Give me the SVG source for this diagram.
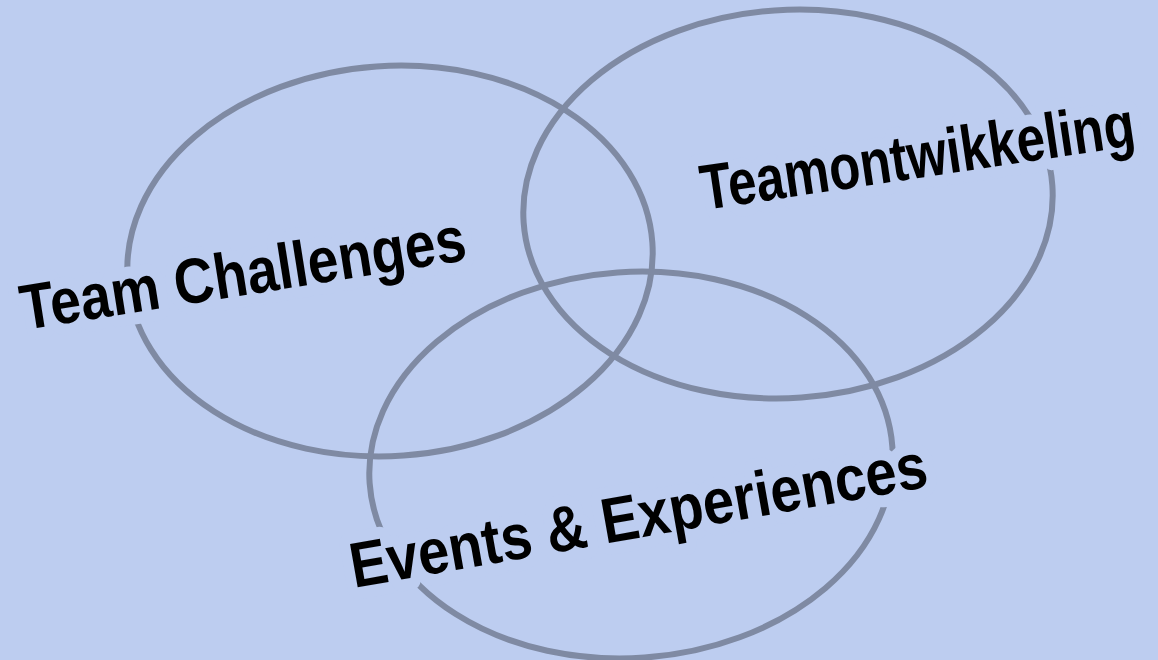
<svg xmlns="http://www.w3.org/2000/svg" width="1158" height="660" viewBox="0 0 1158 660">
<style>
.ring{fill:none;stroke:#7f8aa3;stroke-width:6}
.lbl{font-family:"Liberation Sans","DejaVu Sans",sans-serif;font-weight:bold;font-size:64px;fill:#000}
.halo{fill:#bdcdf0;stroke:#bdcdf0;stroke-width:24;stroke-linejoin:round}
</style>
<rect width="1158" height="660" fill="#bdcdf0"/>
<g id="connectors">
<ellipse class="ring" cx="390" cy="261" rx="263" ry="195" transform="rotate(-4 390 261)"/>
<ellipse class="ring" cx="788" cy="204" rx="265" ry="194" transform="rotate(-4 788 204)"/>
<ellipse class="ring" cx="631" cy="465" rx="262" ry="193" transform="rotate(-4 631 465)"/>
</g>
<g id="node-team-challenges">
<text class="lbl halo" x="24" y="330" textLength="450" lengthAdjust="spacingAndGlyphs" transform="rotate(-9 24 330)">Team Challenges</text>
<text class="lbl" x="24" y="330" textLength="450" lengthAdjust="spacingAndGlyphs" transform="rotate(-9 24 330)">Team Challenges</text>
</g>
<g id="node-teamontwikkeling">
<text class="lbl halo" x="704" y="210" textLength="438" lengthAdjust="spacingAndGlyphs" transform="rotate(-8.5 704 210)">Teamontwikkeling</text>
<text class="lbl" x="704" y="210" textLength="438" lengthAdjust="spacingAndGlyphs" transform="rotate(-8.5 704 210)">Teamontwikkeling</text>
</g>
<g id="node-events">
<text class="lbl halo" x="354" y="588" textLength="585" lengthAdjust="spacingAndGlyphs" transform="rotate(-10 354 588)">Events &amp; Experiences</text>
<text class="lbl" x="354" y="588" textLength="585" lengthAdjust="spacingAndGlyphs" transform="rotate(-10 354 588)">Events &amp; Experiences</text>
</g>
</svg>
